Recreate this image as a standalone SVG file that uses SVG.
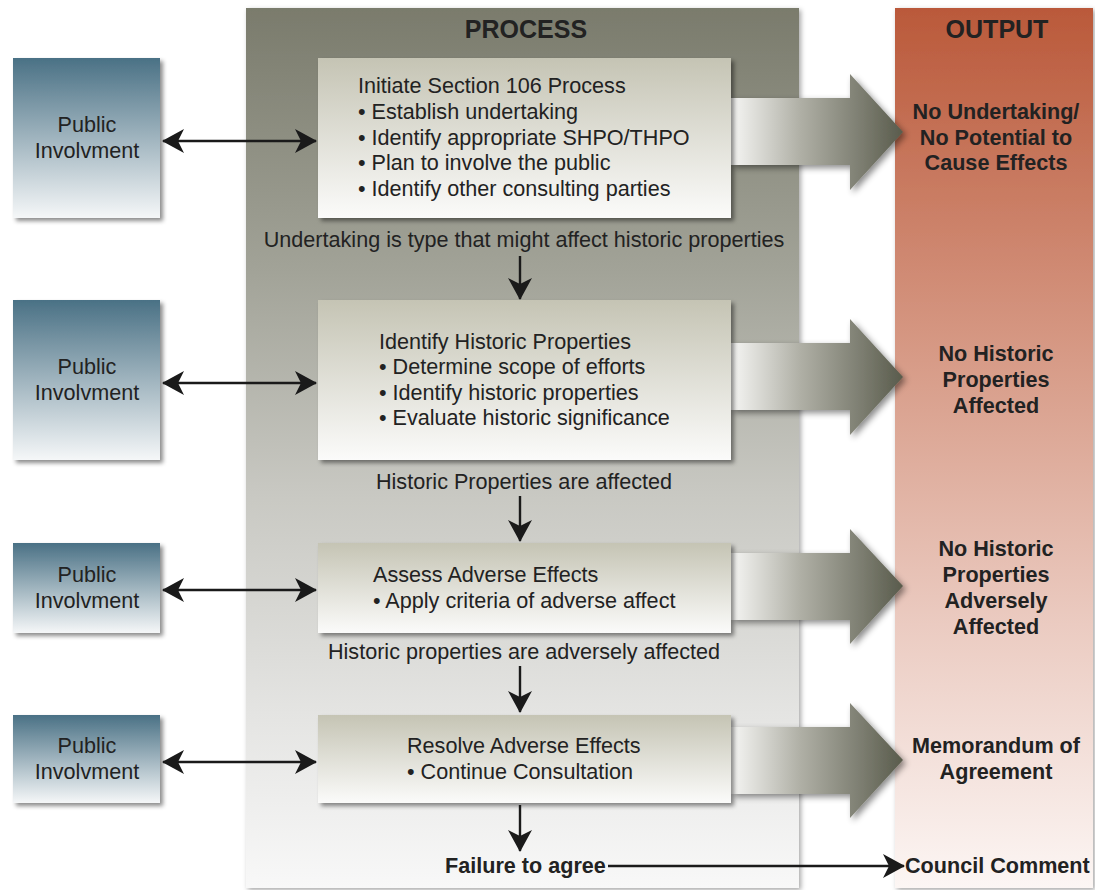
<svg xmlns="http://www.w3.org/2000/svg" width="1095" height="890" viewBox="0 0 1095 890">
  <defs>
    <linearGradient id="gProcessCol" x1="0" y1="0" x2="0" y2="1">
      <stop offset="0" stop-color="#7a7b6c"/>
      <stop offset="0.3" stop-color="#a2a398"/>
      <stop offset="0.55" stop-color="#c8c8c2"/>
      <stop offset="0.8" stop-color="#e4e4e2"/>
      <stop offset="1" stop-color="#f8f8f8"/>
    </linearGradient>
    <linearGradient id="gOutputCol" x1="0" y1="0" x2="0" y2="1">
      <stop offset="0" stop-color="#ba593a"/>
      <stop offset="0.4" stop-color="#d79b87"/>
      <stop offset="0.7" stop-color="#ebcbc1"/>
      <stop offset="1" stop-color="#fcf6f4"/>
    </linearGradient>
    <linearGradient id="gStep" x1="0" y1="0" x2="0" y2="1">
      <stop offset="0" stop-color="#c5c4b4"/>
      <stop offset="1" stop-color="#fbfbfa"/>
    </linearGradient>
    <linearGradient id="gPublic" x1="0" y1="0" x2="0" y2="1">
      <stop offset="0" stop-color="#4a7185"/>
      <stop offset="1" stop-color="#f5f7f8"/>
    </linearGradient>
    <linearGradient id="gBigArrow" gradientUnits="userSpaceOnUse" x1="731" y1="0" x2="903" y2="0">
      <stop offset="0" stop-color="#f6f6f4"/>
      <stop offset="0.4" stop-color="#b0b0a6"/>
      <stop offset="1" stop-color="#595b4c"/>
    </linearGradient>
    <filter id="shadow" x="-10%" y="-10%" width="125%" height="125%">
      <feDropShadow dx="3" dy="3" stdDeviation="2" flood-color="#000" flood-opacity="0.45"/>
    </filter>
    <filter id="colShadow" x="-5%" y="-5%" width="115%" height="110%">
      <feDropShadow dx="2" dy="2" stdDeviation="2.5" flood-color="#000" flood-opacity="0.35"/>
    </filter>
    <filter id="arrowShadow" x="-10%" y="-20%" width="130%" height="150%">
      <feDropShadow dx="3" dy="3" stdDeviation="3" flood-color="#000" flood-opacity="0.45"/>
    </filter>
    <marker id="stealth" viewBox="0 0 22 24" refX="21" refY="12" markerWidth="22" markerHeight="24" markerUnits="userSpaceOnUse" orient="auto-start-reverse">
      <path d="M0,0 L22,12 L0,24 L6,12 Z" fill="#1a1a1a"/>
    </marker>
    <style>
      text { font-family: "Liberation Sans", Arial, sans-serif; fill: #222; }
      .reg { font-size: 21.6px; }
      .bold { font-size: 21.6px; font-weight: bold; }
      .head { font-size: 25px; font-weight: bold; }
      .mid { text-anchor: middle; }
      .step { fill: url(#gStep); filter: url(#shadow); }
      .public { fill: url(#gPublic); filter: url(#shadow); }
      .big { fill: url(#gBigArrow); filter: url(#arrowShadow); }
      .conn { stroke: #1a1a1a; stroke-width: 2.4; fill: none; }
    </style>
  </defs>

  <rect width="1095" height="890" fill="#ffffff"/>

  <!-- columns -->
  <g id="process-column">
    <rect x="246" y="8" width="553" height="880" fill="url(#gProcessCol)" filter="url(#colShadow)"/>
    <text class="head mid" x="526" y="38">PROCESS</text>
  </g>
  <g id="output-column">
    <rect x="895" y="8" width="198" height="880" fill="url(#gOutputCol)" filter="url(#colShadow)"/>
    <text class="head mid" x="997" y="38">OUTPUT</text>
  </g>

  <!-- wide arrows from each step to its output -->
  <g id="output-arrows">
    <path class="big" d="M731,98 L850,98 L850,74 L903,132 L850,190 L850,165 L731,165 Z"/>
    <path class="big" d="M731,343 L850,343 L850,319 L903,377 L850,435 L850,410 L731,410 Z"/>
    <path class="big" d="M731,553 L850,553 L850,529 L903,586 L850,644 L850,620 L731,620 Z"/>
    <path class="big" d="M731,727 L850,727 L850,703 L903,760 L850,818 L850,794 L731,794 Z"/>
  </g>

  <!-- public involvement boxes -->
  <g id="public-1">
    <rect class="public" x="13" y="58" width="147" height="160"/>
    <text class="reg mid" x="87" y="132">Public</text>
    <text class="reg mid" x="87" y="158">Involvment</text>
  </g>
  <g id="public-2">
    <rect class="public" x="13" y="300" width="147" height="160"/>
    <text class="reg mid" x="87" y="374">Public</text>
    <text class="reg mid" x="87" y="400">Involvment</text>
  </g>
  <g id="public-3">
    <rect class="public" x="13" y="543" width="147" height="90"/>
    <text class="reg mid" x="87" y="582">Public</text>
    <text class="reg mid" x="87" y="608">Involvment</text>
  </g>
  <g id="public-4">
    <rect class="public" x="13" y="715" width="147" height="88"/>
    <text class="reg mid" x="87" y="753">Public</text>
    <text class="reg mid" x="87" y="779">Involvment</text>
  </g>

  <!-- process steps -->
  <g id="step-initiate">
    <rect class="step" x="318" y="58" width="413" height="160"/>
    <text class="reg" x="358" y="93">Initiate Section 106 Process</text>
    <text class="reg" x="358" y="119">• Establish undertaking</text>
    <text class="reg" x="358" y="145">• Identify appropriate SHPO/THPO</text>
    <text class="reg" x="358" y="170">• Plan to involve the public</text>
    <text class="reg" x="358" y="196">• Identify other consulting parties</text>
  </g>
  <g id="step-identify">
    <rect class="step" x="318" y="300" width="413" height="160"/>
    <text class="reg" x="379" y="349">Identify Historic Properties</text>
    <text class="reg" x="379" y="374">• Determine scope of efforts</text>
    <text class="reg" x="379" y="400">• Identify historic properties</text>
    <text class="reg" x="379" y="425">• Evaluate historic significance</text>
  </g>
  <g id="step-assess">
    <rect class="step" x="318" y="543" width="413" height="90"/>
    <text class="reg" x="373" y="582">Assess Adverse Effects</text>
    <text class="reg" x="373" y="608">• Apply criteria of adverse affect</text>
  </g>
  <g id="step-resolve">
    <rect class="step" x="318" y="715" width="413" height="88"/>
    <text class="reg" x="407" y="753">Resolve Adverse Effects</text>
    <text class="reg" x="407" y="779">• Continue Consultation</text>
  </g>

  <!-- transition labels -->
  <g id="labels">
    <text class="reg mid" x="524" y="247">Undertaking is type that might affect historic properties</text>
    <text class="reg mid" x="524" y="489">Historic Properties are affected</text>
    <text class="reg mid" x="524" y="659">Historic properties are adversely affected</text>
    <text class="bold" x="445" y="873">Failure to agree</text>
  </g>

  <!-- outputs -->
  <g id="output-1">
    <text class="bold mid" x="996" y="119">No Undertaking/</text>
    <text class="bold mid" x="996" y="145">No Potential to</text>
    <text class="bold mid" x="996" y="170">Cause Effects</text>
  </g>
  <g id="output-2">
    <text class="bold mid" x="996" y="361">No Historic</text>
    <text class="bold mid" x="996" y="387">Properties</text>
    <text class="bold mid" x="996" y="413">Affected</text>
  </g>
  <g id="output-3">
    <text class="bold mid" x="996" y="556">No Historic</text>
    <text class="bold mid" x="996" y="582">Properties</text>
    <text class="bold mid" x="996" y="608">Adversely</text>
    <text class="bold mid" x="996" y="634">Affected</text>
  </g>
  <g id="output-4">
    <text class="bold mid" x="996" y="753">Memorandum of</text>
    <text class="bold mid" x="996" y="779">Agreement</text>
  </g>
  <g id="output-council">
    <text class="bold" x="905" y="873">Council Comment</text>
  </g>

  <!-- connectors -->
  <g id="connectors">
    <line class="conn" x1="163" y1="141" x2="316" y2="141" marker-start="url(#stealth)" marker-end="url(#stealth)"/>
    <line class="conn" x1="163" y1="383" x2="316" y2="383" marker-start="url(#stealth)" marker-end="url(#stealth)"/>
    <line class="conn" x1="163" y1="590" x2="316" y2="590" marker-start="url(#stealth)" marker-end="url(#stealth)"/>
    <line class="conn" x1="163" y1="762" x2="316" y2="762" marker-start="url(#stealth)" marker-end="url(#stealth)"/>
    <line class="conn" x1="520" y1="256" x2="520" y2="299" marker-end="url(#stealth)"/>
    <line class="conn" x1="520" y1="496" x2="520" y2="541" marker-end="url(#stealth)"/>
    <line class="conn" x1="520" y1="666" x2="520" y2="712" marker-end="url(#stealth)"/>
    <line class="conn" x1="520" y1="805" x2="520" y2="851" marker-end="url(#stealth)"/>
    <line class="conn" x1="608" y1="866" x2="904" y2="866" marker-end="url(#stealth)"/>
  </g>
</svg>
